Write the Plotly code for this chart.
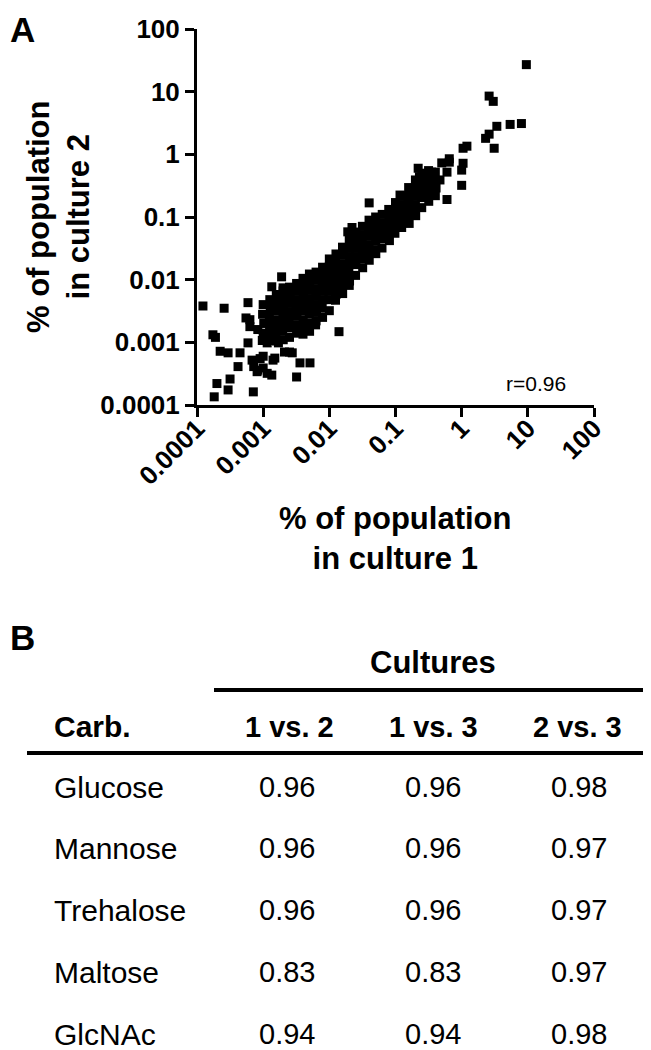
import plotly.graph_objects as go

# ---------------- Panel A data (% of population, culture 1 vs culture 2) ----------------
cloud_x = [
    0.00100, 0.00098, 0.00102, 0.00100, 0.00097,
    0.00126, 0.00128, 0.00124, 0.00127, 0.00125, 0.00129,
    0.00158, 0.00155, 0.00160, 0.00157, 0.00161, 0.00156, 0.00159,
    0.00200, 0.00198, 0.00203, 0.00199, 0.00202, 0.00197, 0.00201,
    0.00250, 0.00255, 0.00248, 0.00252, 0.00246, 0.00253, 0.00250,
    0.00320, 0.00315, 0.00322, 0.00318, 0.00325, 0.00316, 0.00320,
    0.00400, 0.00395, 0.00405, 0.00400, 0.00398, 0.00403, 0.00396, 0.00400,
    0.00500, 0.00505, 0.00495, 0.00500, 0.00508, 0.00497, 0.00500, 0.00503,
    0.00630, 0.00620, 0.00640, 0.00630, 0.00625, 0.00640, 0.00630, 0.00620,
    0.00790, 0.00800, 0.00780, 0.00790, 0.00810, 0.00780, 0.00790,
    0.0100, 0.0099, 0.0101, 0.0100, 0.0098, 0.0102, 0.0100,
    0.0126, 0.0124, 0.0127, 0.0125, 0.0128, 0.0126, 0.0124,
    0.0158, 0.0160, 0.0156, 0.0158, 0.0161, 0.0157, 0.0159,
    0.0200, 0.0198, 0.0203, 0.0200, 0.0197, 0.0202, 0.0200,
    0.0251, 0.0248, 0.0254, 0.0250, 0.0252, 0.0249,
    0.0316, 0.0320, 0.0313, 0.0318, 0.0315, 0.0319,
    0.0398, 0.0395, 0.0402, 0.0398, 0.0394, 0.0401,
    0.0501, 0.0505, 0.0497, 0.0502, 0.0499, 0.0504,
    0.063, 0.062, 0.064, 0.063, 0.0625,
    0.079, 0.080, 0.078, 0.079, 0.081,
    0.100, 0.099, 0.101, 0.100, 0.098,
    0.126, 0.128, 0.125, 0.127, 0.124,
    0.158, 0.156, 0.160, 0.158, 0.155, 0.161,
    0.200, 0.198, 0.203, 0.200, 0.197, 0.202,
    0.250, 0.252, 0.247, 0.251, 0.249,
    0.316, 0.312, 0.320, 0.315, 0.318,
    0.40, 0.39, 0.41, 0.40,
]
cloud_y = [
    0.0040, 0.0028, 0.0020, 0.0014, 0.00107,
    0.0048, 0.0035, 0.0026, 0.00195, 0.00145, 0.00107,
    0.0058, 0.0043, 0.0032, 0.0023, 0.0017, 0.0013, 0.00105,
    0.0066, 0.0049, 0.0036, 0.0027, 0.0020, 0.0015, 0.0011,
    0.0076, 0.0056, 0.0042, 0.0031, 0.0023, 0.0017, 0.0012,
    0.0087, 0.0065, 0.0048, 0.0035, 0.0026, 0.0019, 0.0014,
    0.0105, 0.0078, 0.0058, 0.0043, 0.0032, 0.0023, 0.0017, 0.00135,
    0.0123, 0.0091, 0.0068, 0.0050, 0.0037, 0.0028, 0.0020, 0.0015,
    0.0132, 0.0098, 0.0072, 0.0054, 0.0040, 0.0030, 0.0022, 0.0019,
    0.0158, 0.0117, 0.0087, 0.0065, 0.0048, 0.0035, 0.0025,
    0.0214, 0.0158, 0.0117, 0.0087, 0.0065, 0.0048, 0.0032,
    0.0257, 0.0190, 0.0141, 0.0105, 0.0078, 0.0058, 0.0047,
    0.0330, 0.0245, 0.0180, 0.0135, 0.0100, 0.0074, 0.0060,
    0.0430, 0.0316, 0.0234, 0.0174, 0.0129, 0.0095, 0.0081,
    0.0575, 0.0430, 0.0316, 0.0234, 0.0174, 0.0117,
    0.071, 0.0525, 0.039, 0.029, 0.0214, 0.0155,
    0.089, 0.066, 0.049, 0.036, 0.027, 0.0204,
    0.100, 0.074, 0.055, 0.041, 0.030, 0.026,
    0.110, 0.081, 0.060, 0.045, 0.032,
    0.132, 0.098, 0.072, 0.054, 0.042,
    0.170, 0.126, 0.093, 0.069, 0.055,
    0.214, 0.158, 0.117, 0.087, 0.068,
    0.295, 0.219, 0.162, 0.120, 0.089, 0.079,
    0.390, 0.290, 0.214, 0.158, 0.117, 0.105,
    0.500, 0.370, 0.275, 0.204, 0.141,
    0.550, 0.410, 0.300, 0.224, 0.178,
    0.520, 0.390, 0.290, 0.219,
]

low_x = [0.000123, 0.000257, 0.00059, 0.000174, 0.00019, 0.000224, 0.000295, 0.000447,
         0.00059, 0.00055, 0.00063, 0.000417, 0.000316, 0.00020, 0.000295, 0.000182,
         0.00071, 0.00068, 0.00072, 0.00083, 0.0010, 0.00081, 0.00115, 0.00135,
         0.0032, 0.0036, 0.0051, 0.00275, 0.00141, 0.0010, 0.00135, 0.0019,
         0.0020, 0.014, 0.0017, 0.0021, 0.0025, 0.0009, 0.0015, 0.00115,
         0.00083, 0.00063]
low_y = [0.0038, 0.0035, 0.0043, 0.00132, 0.0012, 0.00072, 0.00068, 0.00068,
         0.00098, 0.00245, 0.00178, 0.00041, 0.00026, 0.00022, 0.000174, 0.000135,
         0.000162, 0.00052, 0.00041, 0.00036, 0.00039, 0.00034, 0.00032, 0.00030,
         0.00028, 0.00047, 0.00047, 0.00068, 0.00052, 0.00060, 0.0077, 0.0111,
         0.0074, 0.00148, 0.00098, 0.00070, 0.00070, 0.00055, 0.00056, 0.00098,
         0.0016, 0.0023]

high_x = [0.019, 0.022, 0.040, 0.117, 0.22, 0.23, 0.35, 0.50, 0.47, 0.60, 0.65, 0.60,
          0.65, 1.00, 1.00, 1.05, 1.05, 1.20, 2.3, 2.6, 3.4, 3.1, 5.4, 8.0, 2.6, 3.0, 9.5]
high_y = [0.058, 0.068, 0.168, 0.224, 0.60, 0.44, 0.52, 0.73, 0.39, 0.52, 0.75, 0.19,
          0.85, 0.32, 0.56, 0.72, 1.25, 1.35, 1.8, 2.1, 2.8, 1.25, 3.0, 3.1, 8.5, 7.0, 27.0]

tick_vals = [0.0001, 0.001, 0.01, 0.1, 1, 10, 100]
tick_text = ["0.0001", "0.001", "0.01", "0.1", "1", "10", "100"]
r_label = "r=0.96"

# ---------------- Panel B data ----------------
carbs = ["Glucose", "Mannose", "Trehalose", "Maltose", "GlcNAc"]
comparisons = ["1 vs. 2", "1 vs. 3", "2 vs. 3"]
r_1v2 = ["0.96", "0.96", "0.96", "0.83", "0.94"]
r_1v3 = ["0.96", "0.96", "0.96", "0.83", "0.94"]
r_2v3 = ["0.98", "0.97", "0.97", "0.97", "0.98"]

# ---------------- Figure ----------------
OFF = 8                       # default page margin of the HTML body
W, H = 651 - OFF, 1050 - OFF
FONT = "Liberation Sans, Arial, sans-serif"


def px(x):
    return (x - OFF) / W


def py(y):
    return 1 - (y - OFF) / H


all_x = cloud_x + low_x + high_x
all_y = cloud_y + low_y + high_y

fig = go.Figure()
fig.add_trace(go.Scatter(
    x=all_x, y=all_y, mode="markers",
    marker=dict(symbol="square", size=9, color="black", line=dict(width=0)),
    cliponaxis=False, hoverinfo="x+y",
))

axis_common = dict(
    type="log", range=[-4, 2], showline=True, linewidth=3, linecolor="black",
    ticks="outside", ticklen=9, tickwidth=3, tickcolor="black",
    tickvals=tick_vals, ticktext=tick_text, showgrid=False, zeroline=False,
    automargin=False,
    tickfont=dict(family=FONT, size=26, color="black", weight="bold"),
)
fig.update_xaxes(domain=[px(197), px(594)], tickangle=-45, ticklabelstandoff=-14, **axis_common)
fig.update_yaxes(domain=[py(405), py(29)], **axis_common)

ann = []
bold = dict(family=FONT, color="black", weight="bold")
reg = dict(family=FONT, color="black")

ann.append(dict(text="A", x=0, y=1, xanchor="left", yanchor="top", font=dict(size=35, **bold)))
ann.append(dict(text="% of population<br>in culture 2", x=px(58), y=py(217), textangle=-90,
                font=dict(size=31, **bold)))
ann.append(dict(text="% of population<br>in culture 1", x=px(395), y=py(538),
                font=dict(size=31, **bold)))
ann.append(dict(text=r_label, x=px(568), y=py(383), xanchor="right", font=dict(size=21, **reg)))
ann.append(dict(text="B", x=0, y=py(637), xanchor="left", font=dict(size=35, **bold)))
ann.append(dict(text="Cultures", x=px(433), y=py(662), font=dict(size=31, **bold)))

ann.append(dict(text="Carb.", x=px(52), y=py(727), xanchor="left", font=dict(size=30, **bold)))
col_centers = [289, 433, 577]
for cx, lab in zip(col_centers, comparisons):
    ann.append(dict(text=lab, x=px(cx), y=py(727), font=dict(size=29, **bold)))

row_y = [787, 848, 910, 972, 1034]
for ry, name, a, b, c in zip(row_y, carbs, r_1v2, r_1v3, r_2v3):
    ann.append(dict(text=name, x=px(52), y=py(ry), xanchor="left", font=dict(size=30, **reg)))
    for cx, v in zip([287, 433, 579], [a, b, c]):
        ann.append(dict(text=v, x=px(cx), y=py(ry), font=dict(size=29, **reg)))

for a in ann:
    a.setdefault("xanchor", "center")
    a.setdefault("yanchor", "middle")
    a["xref"] = "paper"
    a["yref"] = "paper"
    a["showarrow"] = False

shapes = [
    dict(type="line", xref="paper", yref="paper", x0=px(214), x1=1, y0=py(690), y1=py(690),
         line=dict(color="black", width=4)),
    dict(type="line", xref="paper", yref="paper", x0=px(27), x1=1, y0=py(753), y1=py(753),
         line=dict(color="black", width=4)),
]

fig.update_layout(
    width=W, height=H, margin=dict(l=0, r=0, t=0, b=0, pad=0, autoexpand=False),
    paper_bgcolor="white", plot_bgcolor="white", showlegend=False,
    annotations=ann, shapes=shapes,
    font=dict(family=FONT, color="black"),
)

fig.write_html("out.html")
